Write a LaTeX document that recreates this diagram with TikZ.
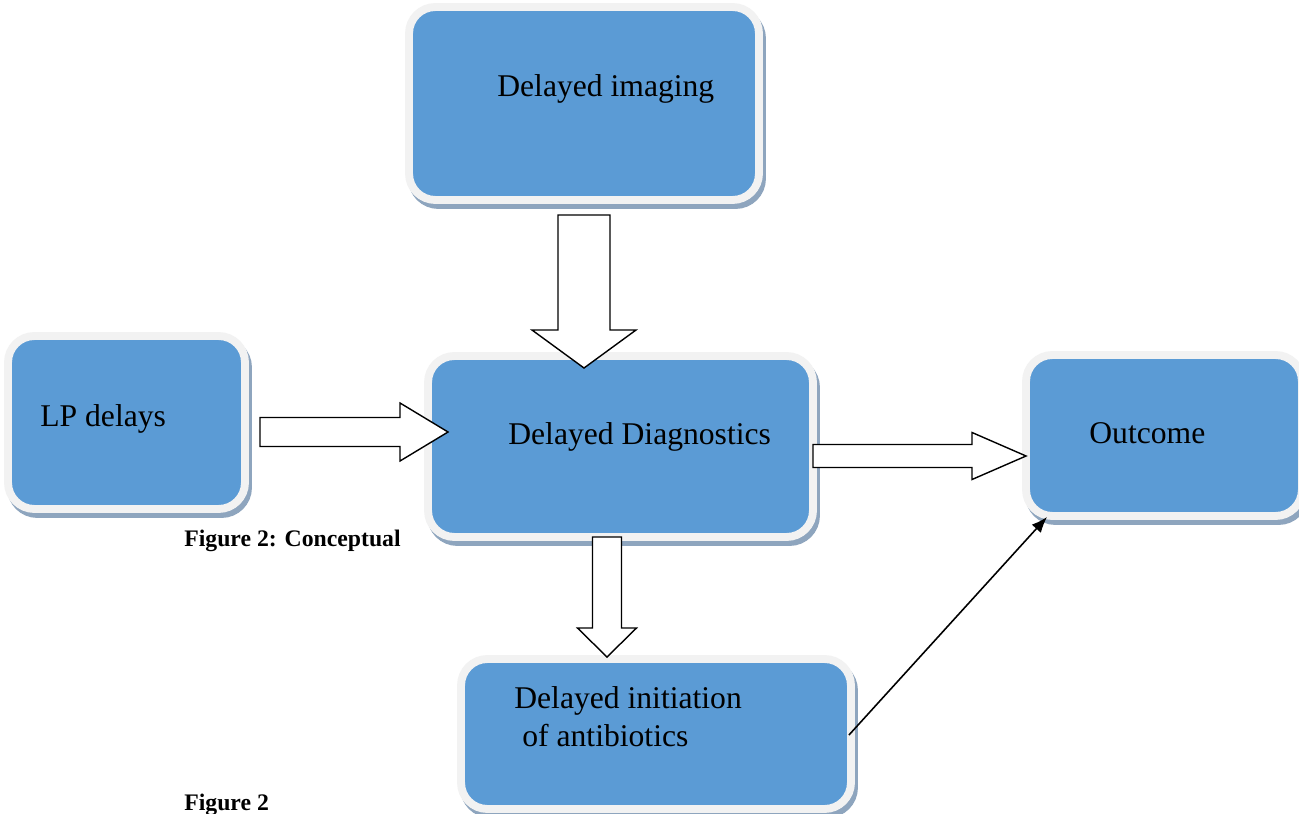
\documentclass[tikz,border=0pt]{standalone}
\usepackage{fontspec}
\setmainfont{Liberation Serif}
\usetikzlibrary{calc,arrows.meta}

\definecolor{boxblue}{RGB}{91,155,213}
\definecolor{boxrim}{RGB}{242,242,242}
\definecolor{boxshade}{RGB}{142,165,190}

\tikzset{
  box/.style={rectangle, rounded corners=15pt, inner sep=0pt, outer sep=0pt, line width=4.5pt,
    draw=boxrim, fill=boxblue,
    preaction={draw=boxshade, fill=boxshade, transform canvas={shift={(3,5)}}}},
  boxtext/.style={anchor=base west, inner sep=0pt, font=\fontsize{18}{22}\selectfont},
  caption/.style={anchor=base west, inner sep=0pt, font=\fontsize{13.5}{16}\selectfont\bfseries},
  blockarrow/.style={draw=black, fill=white, line width=0.8pt, line join=miter},
  link/.style={line width=0.9pt, -{Latex[length=9pt,width=7pt]}}
}

% hollow block arrows: #1 tail, #2 tip, #3 half shaft, #4 half head, #5 head length
\newcommand{\rightblock}[5]{%
  \draw[blockarrow] ($(#1)+(0,-#3)$) -- ($(#2)+(-#5,-#3)$) -- ($(#2)+(-#5,-#4)$) -- (#2)
    -- ($(#2)+(-#5,#4)$) -- ($(#2)+(-#5,#3)$) -- ($(#1)+(0,#3)$) -- cycle;}
\newcommand{\downblock}[5]{%
  \draw[blockarrow] ($(#1)+(-#3,0)$) -- ($(#2)+(-#3,-#5)$) -- ($(#2)+(-#4,-#5)$) -- (#2)
    -- ($(#2)+(#4,-#5)$) -- ($(#2)+(#3,-#5)$) -- ($(#1)+(#3,0)$) -- cycle;}

\begin{document}
\begin{tikzpicture}[x=0.02cm, y=-0.02cm]
\useasboundingbox (0,0) rectangle (1299,814);
\fill[white] (0,0) rectangle (1299,814);

% boxes
\node[box, minimum width=7cm, minimum height=3.86cm] (imaging) at (584,103.5) {};
\node[box, minimum width=4.74cm, minimum height=3.46cm] (lp) at (126.5,422.5) {};
\node[box, minimum width=7.7cm, minimum height=3.62cm] (diag) at (620.5,446.5) {};
\node[box, minimum width=5.52cm, minimum height=3.22cm] (outcome) at (1164,435.5) {};
\node[box, minimum width=7.8cm, minimum height=3cm] (anti) at (656,734) {};

% texts
\node[boxtext] (imagingtext) at (497,97) {Delayed imaging};
\node[boxtext] (lptext) at (40,426) {LP delays};
\node[boxtext] (diagtext) at (508,444) {Delayed Diagnostics};
\node[boxtext] (outcometext) at (1089,443) {Outcome};
\node[boxtext] (antitext) at (514,708) {Delayed initiation};
\node[boxtext] (antitextb) at (522,746) {of antibiotics};

% block arrows
\coordinate (imgtail) at ($(imaging.south)+(0,15)$);
\coordinate (imgtip) at ($(imgtail |- diag.north)+(0,12)$);
\downblock{imgtail}{imgtip}{26}{52}{38}

\coordinate (lptail) at ($(lp.east)+(15,9.5)$);
\coordinate (lptip) at ($(lptail -| diag.west)+(20,0)$);
\rightblock{lptail}{lptip}{14.5}{29}{48}

\coordinate (dxtail) at ($(diag.east)+(0,9.5)$);
\coordinate (dxtip) at (dxtail -| outcome.west);
\rightblock{dxtail}{dxtip}{11.5}{23.5}{54}

\coordinate (dytail) at ($(diag.south)+(-13.5,0)$);
\coordinate (dytip) at ($(dytail |- anti.north)+(0,-2)$);
\downblock{dytail}{dytip}{14.5}{29.5}{29}

% thin arrow
\draw[link] ($(anti.east)+(-2,1)$) -- ($(outcome.south west)+(21,1)$);

% captions
\node[caption] (figcap) at (184,546) {Figure 2: Conceptual};
\node[caption] (figlabel) at (184,810) {Figure 2};
\end{tikzpicture}
\end{document}
